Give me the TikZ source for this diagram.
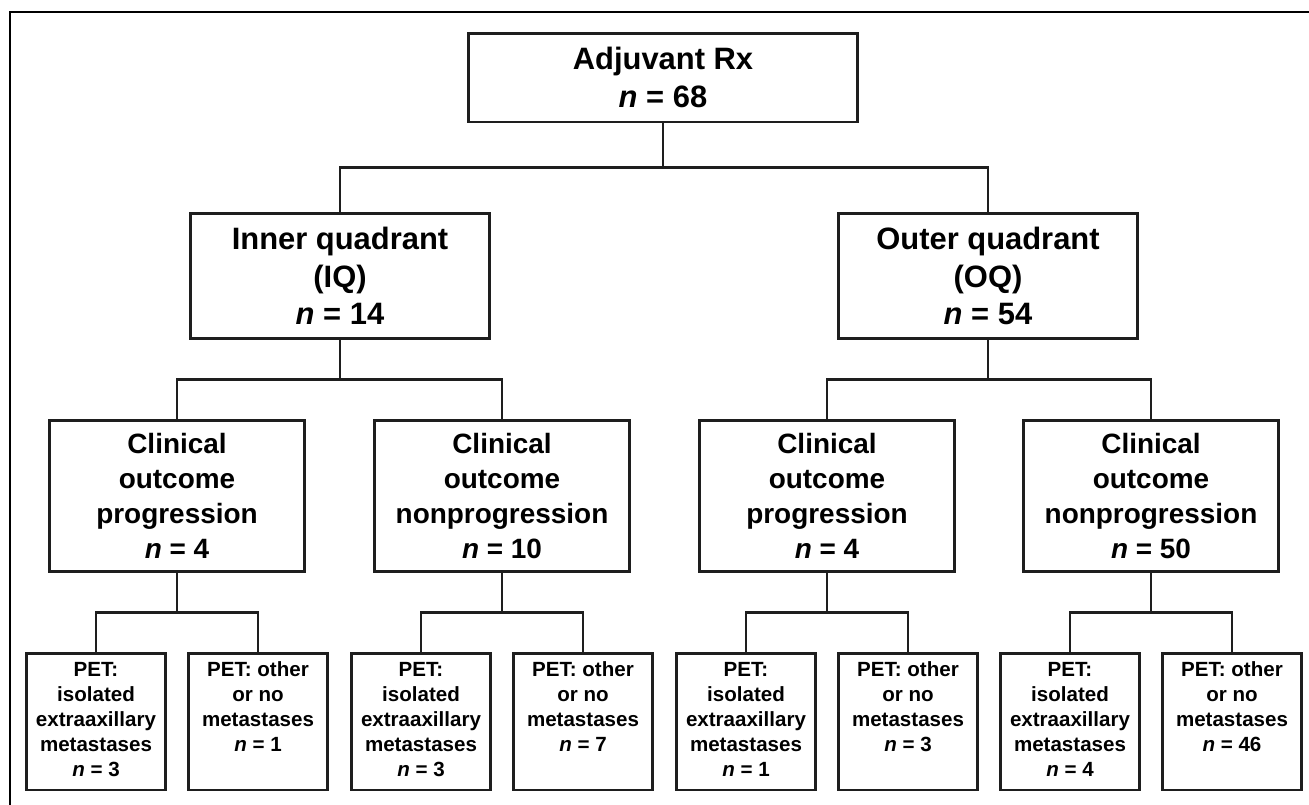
\documentclass[tikz,border=0pt]{standalone}
\usepackage{fontspec}
\setmainfont{Liberation Sans}
\usetikzlibrary{calc}
\definecolor{ink}{HTML}{1E1E1E}
\tikzset{
  box/.style={draw=ink, line width=1.7pt, align=center, inner sep=0pt, text=black},
  rootbox/.style={box, minimum width=7.8cm, minimum height=1.78cm, font=\fontsize{17.6}{21.6}\selectfont\bfseries},
  quadbox/.style={box, minimum width=6cm, minimum height=2.52cm, font=\fontsize{17.6}{21.3}\selectfont\bfseries},
  outcome/.style={box, minimum width=5.12cm, minimum height=3.04cm, font=\fontsize{15.9}{19.9}\selectfont\bfseries},
  petbox/.style={box, minimum width=2.78cm, minimum height=2.74cm, text height=65.3pt, text depth=2.5pt, font=\fontsize{11.7}{14.2}\selectfont\bfseries},
  petshort/.style={petbox, text height=51.1pt, text depth=16.7pt},
  link/.style={draw=ink, line width=1.3pt},
  frame/.style={draw=black, line width=0.9pt}
}

\begin{document}
\begin{tikzpicture}[x=0.02cm, y=-0.02cm]
\useasboundingbox (0,0) rectangle (1309,805);
\draw[frame] (10,805) -- (10,12) -- (1309,12);

\node[rootbox] (root) at (663,77.5) {Adjuvant Rx\\\textit{n} = 68};
\node[quadbox] (iq) at (340,276) {Inner quadrant\\(IQ)\\\textit{n} = 14};
\node[quadbox] (oq) at (988,276) {Outer quadrant\\(OQ)\\\textit{n} = 54};

\node[outcome] (iqprog) at (177,496) {Clinical\\outcome\\progression\\\textit{n} = 4};
\node[outcome] (iqnon) at (502,496) {Clinical\\outcome\\nonprogression\\\textit{n} = 10};
\node[outcome] (oqprog) at (827,496) {Clinical\\outcome\\progression\\\textit{n} = 4};
\node[outcome] (oqnon) at (1151,496) {Clinical\\outcome\\nonprogression\\\textit{n} = 50};

\node[petbox] (pet1) at (96,721.5) {PET:\\isolated\\extraaxillary\\metastases\\\textit{n} = 3};
\node[petshort] (pet2) at (258,721.5) {PET: other\\or no\\metastases\\\textit{n} = 1};
\node[petbox] (pet3) at (421,721.5) {PET:\\isolated\\extraaxillary\\metastases\\\textit{n} = 3};
\node[petshort] (pet4) at (583,721.5) {PET: other\\or no\\metastases\\\textit{n} = 7};
\node[petbox] (pet5) at (746,721.5) {PET:\\isolated\\extraaxillary\\metastases\\\textit{n} = 1};
\node[petshort] (pet6) at (908,721.5) {PET: other\\or no\\metastases\\\textit{n} = 3};
\node[petbox] (pet7) at (1070,721.5) {PET:\\isolated\\extraaxillary\\metastases\\\textit{n} = 4};
\node[petshort] (pet8) at (1232,721.5) {PET: other\\or no\\metastases\\\textit{n} = 46};

\coordinate (j0) at ($(root.south)!.5!(iq.north)$);
\draw[link] (root.south) -- (root.south |- j0);
\draw[link] (iq.north) |- (j0) -| (oq.north);

\coordinate (j1) at ($(iq.south)!.5!(iqprog.north)$);
\draw[link] (iq.south) -- (iq.south |- j1);
\draw[link] (iqprog.north) |- (j1) -| (iqnon.north);
\coordinate (j2) at ($(oq.south)!.5!(oqprog.north)$);
\draw[link] (oq.south) -- (oq.south |- j2);
\draw[link] (oqprog.north) |- (j2) -| (oqnon.north);

\coordinate (j3) at ($(iqprog.south)!.5!(pet1.north)$);
\draw[link] (iqprog.south) -- (iqprog.south |- j3);
\draw[link] (pet1.north) |- (j3) -| (pet2.north);
\coordinate (j4) at ($(iqnon.south)!.5!(pet3.north)$);
\draw[link] (iqnon.south) -- (iqnon.south |- j4);
\draw[link] (pet3.north) |- (j4) -| (pet4.north);
\coordinate (j5) at ($(oqprog.south)!.5!(pet5.north)$);
\draw[link] (oqprog.south) -- (oqprog.south |- j5);
\draw[link] (pet5.north) |- (j5) -| (pet6.north);
\coordinate (j6) at ($(oqnon.south)!.5!(pet7.north)$);
\draw[link] (oqnon.south) -- (oqnon.south |- j6);
\draw[link] (pet7.north) |- (j6) -| (pet8.north);
\end{tikzpicture}
\end{document}
